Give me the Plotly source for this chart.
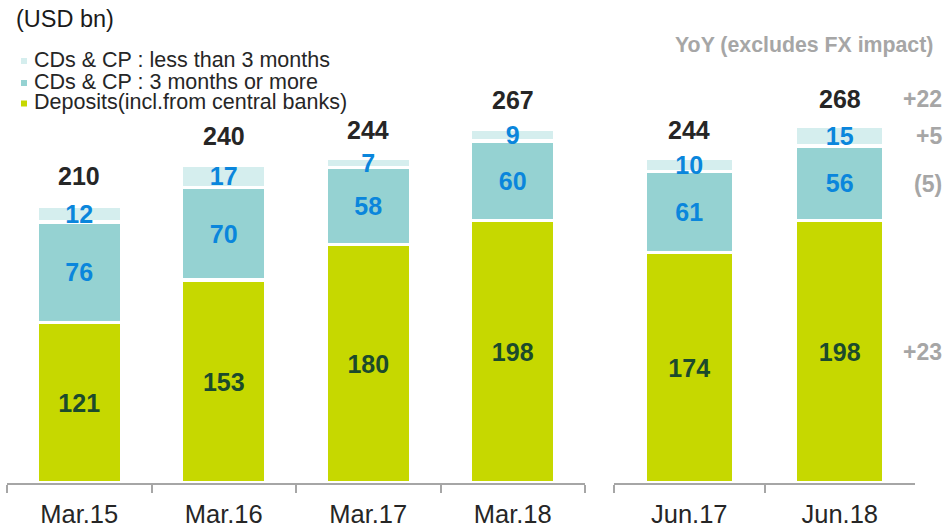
import plotly.graph_objects as go

# ---- data (USD bn) ----
periods_annual = ["Mar.15", "Mar.16", "Mar.17", "Mar.18"]
periods_quarter = ["Jun.17", "Jun.18"]

deposits_annual = [121, 153, 180, 198]
cds_long_annual = [76, 70, 58, 60]
cds_short_annual = [12, 17, 7, 9]
totals_annual = [210, 240, 244, 267]

deposits_quarter = [174, 198]
cds_long_quarter = [61, 56]
cds_short_quarter = [10, 15]
totals_quarter = [244, 268]

yoy_labels = ["+22", "+5", "(5)", "+23"]

series_names = [
    "CDs & CP : less than 3 months",
    "CDs & CP : 3 months or more",
    "Deposits(incl.from central banks)",
]

# ---- styling ----
W, H = 946, 527
MB = 44                      # bottom margin: axis line sits at y = H - MB
PLOT_H = H - MB
FONT = "Liberation Sans, Arial, sans-serif"
C_SHORT = "#d5eeee"
C_LONG = "#95d2d2"
C_DEP = "#c6d800"
C_BLUE = "#0a86dc"
C_DARK = "#1b4a2c"
C_TOTAL = "#262626"
C_GREY = "#a6a6a6"
NUM_SIZE = 25


def px_x(px):
    return px / W


def px_y(py):
    return (PLOT_H - py) / PLOT_H


fig = go.Figure()


def add_stack(xaxis, cats, dep, lng, sht, width):
    common = dict(xaxis=xaxis, yaxis="y", width=width, textposition="inside",
                  insidetextanchor="middle", constraintext="none", textangle=0,
                  showlegend=False, hoverinfo="skip",
                  marker_line=dict(color="white", width=3.5))
    fig.add_trace(go.Bar(x=cats, y=dep, text=dep, marker_color=C_DEP,
                         insidetextfont=dict(family=FONT, size=NUM_SIZE, color=C_DARK),
                         texttemplate="<b>%{text}</b>", **common))
    fig.add_trace(go.Bar(x=cats, y=lng, text=lng, marker_color=C_LONG,
                         insidetextfont=dict(family=FONT, size=NUM_SIZE, color=C_BLUE),
                         texttemplate="<b>%{text}</b>", **common))
    fig.add_trace(go.Bar(x=cats, y=sht, text=sht, marker_color=C_SHORT,
                         insidetextfont=dict(family=FONT, size=NUM_SIZE, color=C_BLUE),
                         texttemplate="<b>%{text}</b>", **common))


add_stack("x", periods_annual, deposits_annual, cds_long_annual, cds_short_annual, 0.585)
add_stack("x2", periods_quarter, deposits_quarter, cds_long_quarter, cds_short_quarter, 0.588)

annotations = []
# totals above each stack
for xref, cats, tots in (("x", periods_annual, totals_annual),
                         ("x2", periods_quarter, totals_quarter)):
    for c, t in zip(cats, tots):
        annotations.append(dict(x=c, y=t, xref=xref, yref="y", text=f"<b>{t}</b>",
                                showarrow=False, yanchor="middle", yshift=29,
                                font=dict(family=FONT, size=NUM_SIZE, color=C_TOTAL)))

# unit label
annotations.append(dict(x=px_x(14), y=px_y(19), xref="paper", yref="paper",
                        text="(USD bn)", showarrow=False, xanchor="left", yanchor="middle",
                        font=dict(family=FONT, size=23.5, color="#1a1a1a")))

# legend rows (text + colour swatch)
legend_rows = [(series_names[0], C_SHORT, 59), (series_names[1], C_LONG, 81),
               (series_names[2], C_DEP, 101.5)]
shapes = []
for name, col, cy in legend_rows:
    annotations.append(dict(x=px_x(32), y=px_y(cy + 1), xref="paper", yref="paper",
                            text=name, showarrow=False, xanchor="left", yanchor="middle",
                            font=dict(family=FONT, size=21.5, color="#262626")))
    shapes.append(dict(type="rect", xref="paper", yref="paper",
                       x0=px_x(21), x1=px_x(27), y0=px_y(cy + 5), y1=px_y(cy - 1),
                       fillcolor=col, line_width=0))

# year-on-year change column
annotations.append(dict(x=px_x(935), y=px_y(45), xref="paper", yref="paper",
                        text="<b>YoY (excludes FX impact)</b>", showarrow=False,
                        xanchor="right", yanchor="middle",
                        font=dict(family=FONT, size=21.3, color=C_GREY)))
for lab, cy in zip(yoy_labels, (98.5, 135.5, 184, 351.5)):
    annotations.append(dict(x=px_x(944), y=px_y(cy), xref="paper", yref="paper",
                            text=f"<b>{lab}</b>", showarrow=False,
                            xanchor="right", yanchor="middle",
                            font=dict(family=FONT, size=23, color=C_GREY)))

axis_common = dict(type="category", showline=True, linecolor=C_GREY, linewidth=2,
                   ticks="outside", tickson="boundaries", ticklen=8, tickwidth=2,
                   tickcolor=C_GREY, showgrid=False, zeroline=False, anchor="y",
                   tickfont=dict(family=FONT, size=25.5, color="#262626"),
                   ticklabelstandoff=7)

fig.update_layout(
    width=W, height=H,
    barmode="stack",
    paper_bgcolor="white", plot_bgcolor="white",
    margin=dict(l=0, r=0, t=0, b=MB),
    xaxis=dict(domain=[px_x(7), px_x(585)], **axis_common),
    xaxis2=dict(domain=[px_x(614), px_x(915)], **axis_common),
    yaxis=dict(range=[0, PLOT_H / 1.326], visible=False, showgrid=False,
               zeroline=False),
    annotations=annotations,
    shapes=shapes,
    showlegend=False,
)

fig.write_html("out.html")
